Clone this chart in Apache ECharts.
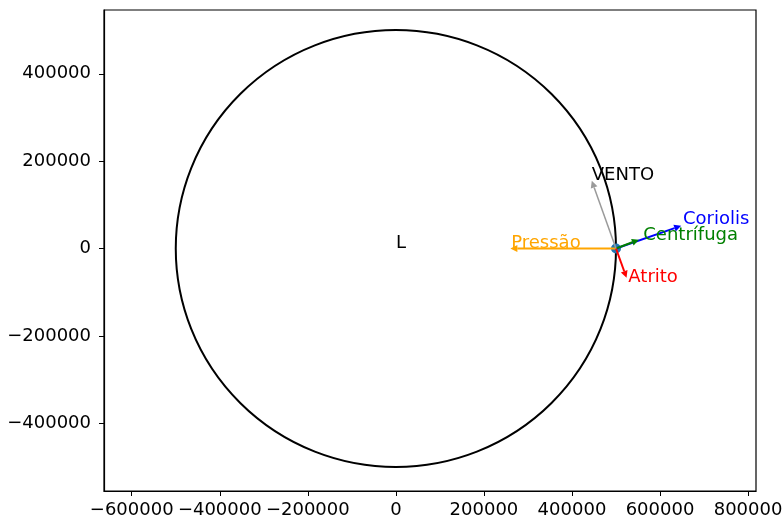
<!DOCTYPE html>
<html>
<head>
<meta charset="utf-8">
<script src="https://cdn.jsdelivr.net/npm/echarts@6/dist/echarts.min.js"></script>
<style>
  html, body { margin: 0; padding: 0; background: #fff; }
  #chart { width: 782px; height: 519px; }
</style>
</head>
<body>
<div id="chart"></div>
<script>
// circulo em torno do centro de baixa pressao
const circleCenter = [0, 0]
const circleRadius = 500000
const centerLabel = 'L'

// ponto onde as forcas atuam
const origin = [500000, 0]

// forcas (componentes dx, dy) e onde fica o texto de cada uma
const forceNames = ['Pressão', 'Coriolis', 'Centrífuga', 'Atrito', 'VENTO']
const forceDx = [-240000, 148000, 52000, 24000, -55000]
const forceDy = [0, 52000, 20000, -67000, 155000]
const labelX = [262000, 652000, 562000, 528000, 445000]
const labelY = [0, 55000, 18000, -78000, 156000]

// ticks
const xTicks = [-600000, -400000, -200000, 0, 200000, 400000, 600000, 800000]
const yTicks = [-400000, -200000, 0, 200000, 400000]

const forceColors = ['#ffa500', '#0000ff', '#008000', '#ff0000', '#9a9a9a']
const labelColors = ['#ffa500', '#0000ff', '#008000', '#ff0000', '#000000']
const font = 'DejaVu Sans'
const fontSize = 18

const fmt = v => (v < 0 ? '\u2212' + Math.abs(v) : String(v))

const axisCommon = {
  type: 'value',
  splitLine: { show: false },
  axisLine: { show: true, onZero: false, lineStyle: { color: '#000', width: 1.2 } },
  axisTick: { show: true, inside: false, length: 5, lineStyle: { color: '#000', width: 1 } },
  axisLabel: { color: '#000', fontFamily: font, fontSize, formatter: fmt }
}

const xAxis = Object.assign({}, axisCommon, {
  min: -663000,
  max: 818000,
  axisTick: Object.assign({}, axisCommon.axisTick, { customValues: xTicks }),
  axisLabel: Object.assign({}, axisCommon.axisLabel, { customValues: xTicks, margin: 10 })
})
const yAxis = Object.assign({}, axisCommon, {
  min: -555000,
  max: 546000,
  axisTick: Object.assign({}, axisCommon.axisTick, { customValues: yTicks }),
  axisLabel: Object.assign({}, axisCommon.axisLabel, { customValues: yTicks, margin: 13 })
})

const arrowData = forceNames.map((n, i) => [origin[0], origin[1], origin[0] + forceDx[i], origin[1] + forceDy[i], i])
const labelData = forceNames.map((n, i) => [labelX[i], labelY[i], i])

function renderArrow(params, api) {
  const i = api.value(4)
  const p0 = api.coord([api.value(0), api.value(1)])
  const p1 = api.coord([api.value(2), api.value(3)])
  const dx = p1[0] - p0[0]
  const dy = p1[1] - p0[1]
  const len = Math.sqrt(dx * dx + dy * dy)
  const ux = dx / len
  const uy = dy / len
  const hl = 7
  const hw = 3.5
  const bx = p1[0] - ux * hl
  const by = p1[1] - uy * hl
  const color = forceColors[i]
  return {
    type: 'group',
    children: [
      {
        type: 'line',
        shape: { x1: p0[0], y1: p0[1], x2: bx, y2: by },
        style: { stroke: color, lineWidth: i === 4 ? 1.5 : 2 }
      },
      {
        type: 'polygon',
        shape: { points: [[p1[0], p1[1]], [bx - uy * hw, by + ux * hw], [bx + uy * hw, by - ux * hw]] },
        style: { fill: color }
      }
    ]
  }
}

function renderLabel(params, api) {
  const i = api.value(2)
  const p = api.coord([api.value(0), api.value(1)])
  return {
    type: 'text',
    x: p[0],
    y: p[1] + 4,
    style: {
      text: forceNames[i],
      fill: labelColors[i],
      font: fontSize + 'px "' + font + '"',
      align: 'left',
      verticalAlign: 'bottom'
    }
  }
}

const myChart = echarts.init(document.getElementById('chart'))
const option = {
  animation: false,
  backgroundColor: '#fff',
  grid: {
    left: 104,
    right: 26,
    top: 10,
    bottom: 28,
    show: true,
    borderColor: '#000',
    borderWidth: 1.2,
    outerBoundsMode: 'none'
  },
  xAxis,
  yAxis,
  series: [
    {
      type: 'custom',
      data: [[circleCenter[0], circleCenter[1], circleRadius]],
      renderItem(params, api) {
        const c = api.coord([api.value(0), api.value(1)])
        const s = api.size([api.value(2), api.value(2)])
        const rx = s[0]
        const ry = s[1]
        return {
          type: 'path',
          shape: {
            pathData: 'M' + (c[0] - rx) + ' ' + c[1] +
              ' A' + rx + ' ' + ry + ' 0 1 0 ' + (c[0] + rx) + ' ' + c[1] +
              ' A' + rx + ' ' + ry + ' 0 1 0 ' + (c[0] - rx) + ' ' + c[1] + ' Z'
          },
          style: { fill: 'none', stroke: '#000', lineWidth: 2 }
        }
      },
      z: 1
    },
    {
      type: 'custom',
      data: [[circleCenter[0], circleCenter[1]]],
      renderItem(params, api) {
        const c = api.coord([api.value(0), api.value(1)])
        return {
          type: 'text',
          x: c[0],
          y: c[1] + 4,
          style: {
            text: centerLabel,
            fill: '#000',
            font: fontSize + 'px "' + font + '"',
            align: 'left',
            verticalAlign: 'bottom'
          }
        }
      },
      z: 5
    },
    {
      type: 'scatter',
      data: [origin],
      symbolSize: 10,
      itemStyle: { color: '#1f77b4', opacity: 1 },
      z: 2
    },
    {
      type: 'custom',
      data: arrowData,
      renderItem: renderArrow,
      z: 3
    },
    {
      type: 'custom',
      data: labelData,
      renderItem: renderLabel,
      z: 4
    }
  ]
}
myChart.setOption(option)
</script>
</body>
</html>
